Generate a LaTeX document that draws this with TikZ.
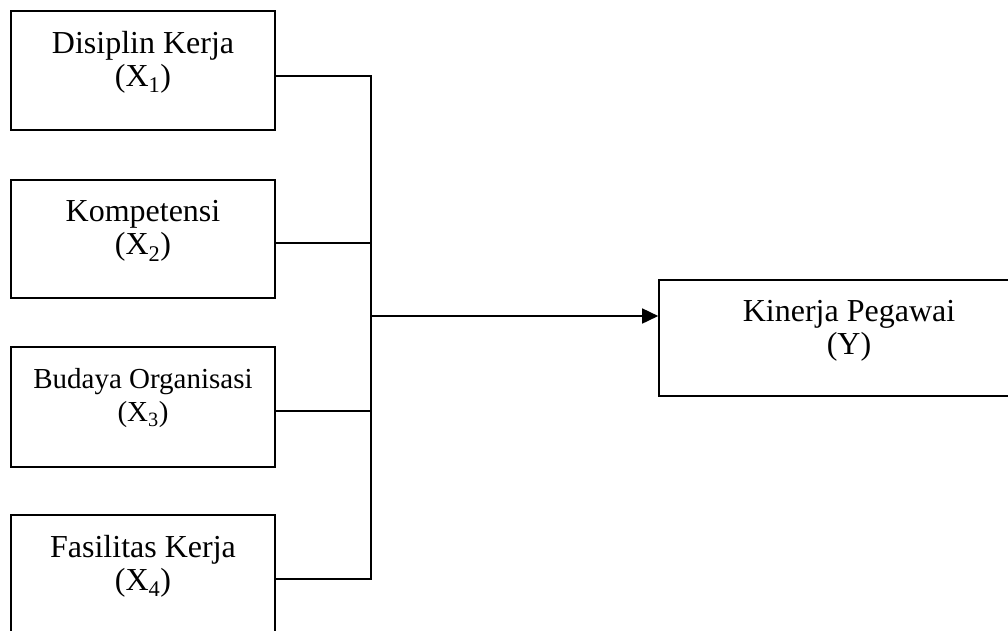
\documentclass[tikz,border=0pt]{standalone}
\usepackage{fontspec}
\setmainfont{Liberation Serif}
\usetikzlibrary{arrows.meta}
\begin{document}
\begin{tikzpicture}[x=1pt,y=-1pt,
  box/.style={draw, line width=1.6pt, rectangle, inner sep=0pt},
  lbl/.style={align=center, font=\fontsize{32}{33}\selectfont, inner sep=0pt},
  lblsmall/.style={align=center, font=\fontsize{29}{33}\selectfont, inner sep=0pt},
  conn/.style={line width=1.6pt},
  arr/.style={line width=1.6pt, -{Triangle[length=16pt,width=15pt]}}]
\useasboundingbox (0,0) rectangle (1008,630);
\clip (0,0) rectangle (1008,630);
% boxes
\node[box, minimum width=264pt, minimum height=119pt] (b1) at (143,70.5) {};
\node[box, minimum width=264pt, minimum height=118pt] (b2) at (143,239) {};
\node[box, minimum width=264pt, minimum height=120pt] (b3) at (143,407) {};
\node[box, minimum width=264pt, minimum height=140pt] (b4) at (143,585) {};
\node[box, minimum width=380pt, minimum height=116pt] (y) at (849,338) {};
% labels
\node[lbl] (t1) at ([yshift=-52pt]b1.north) {Disiplin Kerja\\(X\textsubscript{1})};
\node[lbl] (t2) at ([yshift=-52pt]b2.north) {Kompetensi\\(X\textsubscript{2})};
\node[lblsmall] (t3) at ([yshift=-52pt]b3.north) {Budaya Organisasi\\(X\textsubscript{3})};
\node[lbl] (t4) at ([yshift=-52pt]b4.north) {Fasilitas Kerja\\(X\textsubscript{4})};
\node[lbl] (ty) at ([yshift=-52pt]y.north) {Kinerja Pegawai\\(Y)};
% junctions
\coordinate (j1) at (371,76);
\coordinate (j2) at (371,243);
\coordinate (j3) at (371,411);
\coordinate (j4) at (371,579);
\coordinate (jm) at (371,316);
% connectors
\draw[conn] (b1.east |- j1) -- (j1);
\draw[conn] (b2.east |- j2) -- (j2);
\draw[conn] (b3.east |- j3) -- (j3);
\draw[conn] (b4.east |- j4) -- (j4);
\draw[conn, line cap=rect] (j1) -- (j4);
\draw[arr] (jm) -- (y.west |- jm);
\end{tikzpicture}
\end{document}
